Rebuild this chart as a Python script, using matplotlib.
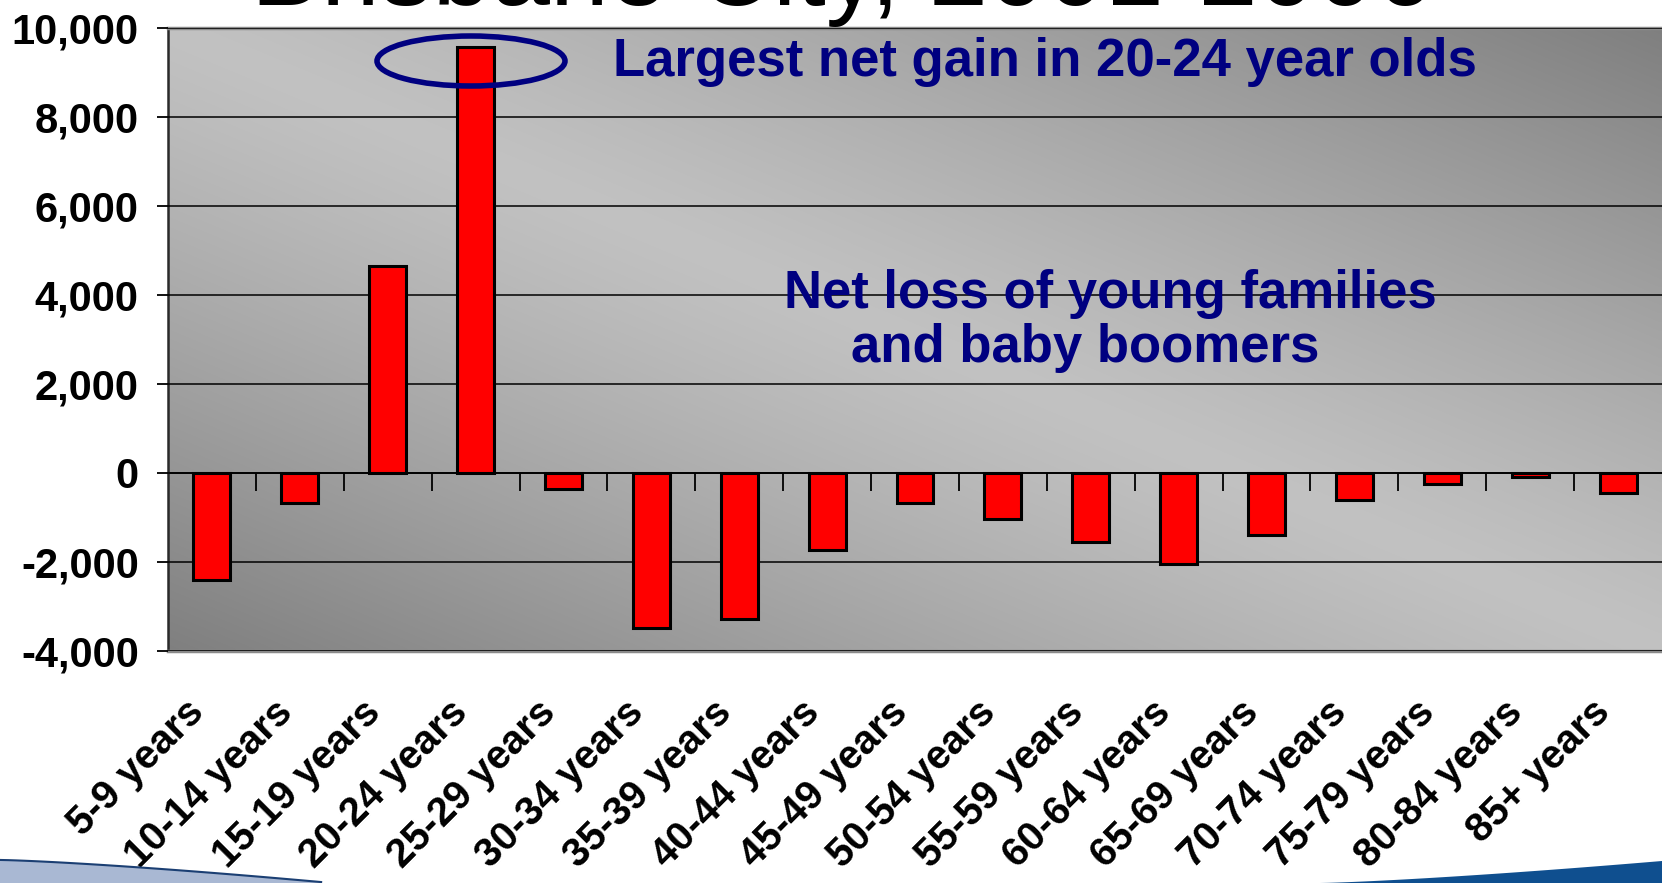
import numpy as np
import matplotlib
matplotlib.use('Agg')
import matplotlib.pyplot as plt
from matplotlib.patches import Ellipse, Polygon
from matplotlib.transforms import ScaledTranslation

matplotlib.rcParams['font.family'] = ['Liberation Sans', 'DejaVu Sans']

age_groups = ['5-9 years', '10-14 years', '15-19 years', '20-24 years', '25-29 years',
              '30-34 years', '35-39 years', '40-44 years', '45-49 years', '50-54 years',
              '55-59 years', '60-64 years', '65-69 years', '70-74 years', '75-79 years',
              '80-84 years', '85+ years']
net_migration = [-2410, -670, 4650, 9570, -360, -3490, -3270, -1740, -665, -1030,
                 -1540, -2040, -1390, -600, -240, -100, -450]
y_ticks = [-4000, -2000, 0, 2000, 4000, 6000, 8000, 10000]

W, H = 1662, 883
fig = plt.figure(figsize=(W / 100, H / 100), dpi=100)
fig.patch.set_facecolor('white')

# plot area in pixels: left 168, right 1662, top 28, bottom 651
ax = fig.add_axes([168 / W, 1 - 651 / H, 1 - 168 / W, (651 - 28) / H])

# diagonal grey gradient background (dark bottom-left / top-right, light in between)
u, v = np.meshgrid(np.linspace(0, 1, 300), np.linspace(1, 0, 150))
t = np.abs((u + v) - 1.0)
shade = 0.76 - 0.26 * t ** 1.2
bg = np.dstack([shade, shade, shade])
ax.imshow(bg, extent=[0, 1, 0, 1], transform=ax.transAxes, aspect='auto', zorder=0,
          interpolation='bilinear')

x = np.arange(len(age_groups))
ax.bar(x, net_migration, width=0.42, color='#ff0000', edgecolor='black', linewidth=2.2, zorder=3)

ax.set_xlim(-0.5, len(age_groups) - 0.5)
ax.set_ylim(-4000, 10000)
ax.set_yticks(y_ticks)
ax.set_yticklabels([f'{t:,}' for t in y_ticks])
ax.yaxis.grid(True, color='black', linewidth=1.1, zorder=1)
ax.set_axisbelow(False)

# zero line with category separator ticks
ax.axhline(0, color='black', linewidth=1.3, zorder=2)
bounds = np.arange(len(age_groups) - 1) + 0.5
ax.plot(bounds, np.zeros_like(bounds), ls='none', marker=3, ms=13, mew=1.3,
        color='black', zorder=2)

for s in ['top', 'bottom']:
    ax.spines[s].set_color('#8a8a8a')
    ax.spines[s].set_linewidth(2.5)
ax.spines['right'].set_visible(False)
ax.spines['left'].set_color('#2a2a2a')
ax.spines['left'].set_linewidth(1.8)

ax.tick_params(axis='y', direction='out', length=8, width=1.3, pad=13,
               labelsize=30, colors='black')
for lab in ax.get_yticklabels():
    lab.set_fontweight('bold')

ax.set_xticks(x)
ax.set_xticklabels(age_groups, rotation=45, ha='right', va='top',
                   rotation_mode='anchor', fontsize=29, fontweight='bold')
ax.tick_params(axis='x', length=0, pad=30)
off = ScaledTranslation(-27 / 100, 0, fig.dpi_scale_trans)
for lab in ax.get_xticklabels():
    lab.set_transform(lab.get_transform() + off)

# annotations
navy = '#000080'
ax.add_patch(Ellipse(((471 - 168) / 1494, (651 - 61) / 623), 188 / 1494, 50 / 623,
                     transform=ax.transAxes, fill=False, edgecolor=navy, linewidth=4,
                     zorder=5, clip_on=False))
fig.text(613 / W, 1 - 76 / H, 'Largest net gain in 20-24 year olds', color=navy,
         fontsize=38, fontweight='bold', ha='left', va='baseline')
fig.text(784 / W, 1 - 308 / H, 'Net loss of young families', color=navy,
         fontsize=38, fontweight='bold', ha='left', va='baseline')
fig.text(851 / W, 1 - 362 / H, 'and baby boomers', color=navy,
         fontsize=38, fontweight='bold', ha='left', va='baseline')

# slide title, cut off at top edge
fig.text(251 / W, 1 - 5 / H, 'Brisbane City, 2001-2006', color='black',
         fontsize=76, ha='left', va='baseline')

# blue swoosh at bottom of slide
def px(pts):
    return [(a / W, 1 - b / H) for a, b in pts]

xs = np.linspace(0, 320, 40)
top_left = 861 + 22 * (xs / 320) ** 1.3
fig.patches.append(Polygon(px(list(zip(xs, top_left)) + [(0, 883)]), closed=True,
                           transform=fig.transFigure, facecolor='#a9b8d3', edgecolor='none',
                           zorder=0))
fig.lines.append(plt.Line2D(xs / W, 1 - top_left / H, transform=fig.transFigure,
                            color='#1b3f73', linewidth=3, zorder=0))
xr = np.linspace(1320, 1662, 40)
top_right = 883 - 22 * ((xr - 1320) / 342) ** 1.3
fig.patches.append(Polygon(px(list(zip(xr, top_right)) + [(1662, 883)]), closed=True,
                           transform=fig.transFigure, facecolor='#0f4f8f', edgecolor='none',
                           zorder=0))

fig.savefig('out.png', dpi=100)
